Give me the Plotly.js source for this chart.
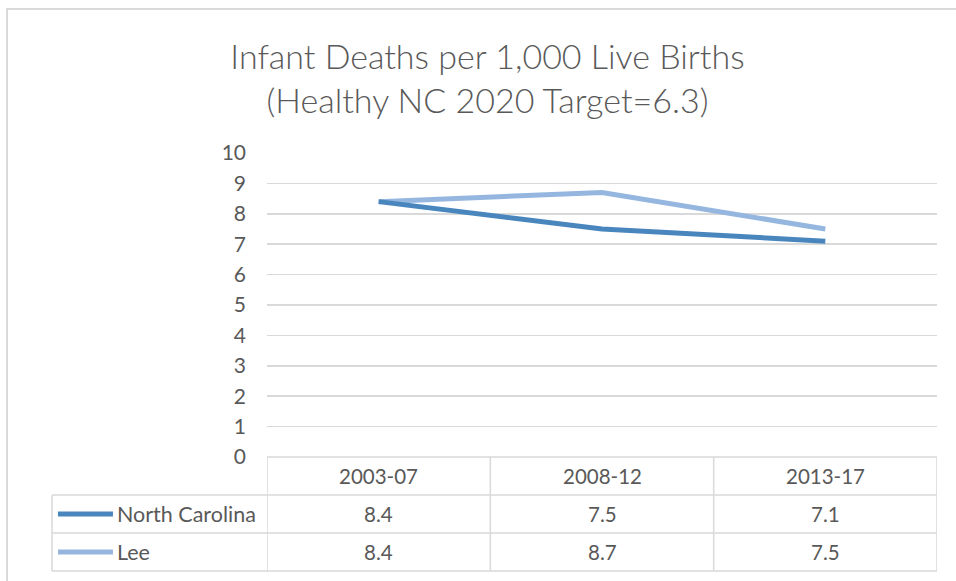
<!DOCTYPE html>
<html>
<head>
<meta charset="utf-8">
<script src="https://cdn.plot.ly/plotly-3.0.1.min.js"></script>
<style>html,body{margin:0;padding:0;background:#fff;}#chart{width:956px;height:581px;}</style>
</head>
<body>
<div id="chart"></div>
<script>
const categories = ['2003-07', '2008-12', '2013-17'];
const seriesNames = ['North Carolina', 'Lee'];
const northCarolina = [8.4, 7.5, 7.1];
const lee = [8.4, 8.7, 7.5];
const yTicks = [0, 1, 2, 3, 4, 5, 6, 7, 8, 9, 10];
const titleLines = ['Infant Deaths per 1,000 Live Births', '(Healthy NC 2020 Target=6.3)'];

const seriesValues = [northCarolina, lee];
const colors = ['#4A86BE', '#95B7DF'];
const textColor = '#595959';
const gridColor = '#D9D9D9';
const FONT = 'Lato, "Open Sans", sans-serif';

const traces = seriesValues.map((vals, i) => ({
  type: 'scatter', mode: 'lines', name: seriesNames[i],
  x: categories, y: vals,
  line: {color: colors[i], width: 5, shape: 'linear'},
  hoverinfo: 'skip', showlegend: false
}));
// draw North Carolina on top of Lee
traces.reverse();

// Data table geometry (paper coords, relative to plot area)
const rowH = 0.125;
const tableLeft = -0.3209;
const rowCenters = [-rowH / 2, -rowH * 1.5, -rowH * 2.5];
const shapes = [];
const lineStyle = {color: gridColor, width: 1.5};
shapes.push({type: 'line', xref: 'paper', yref: 'paper', x0: 0, x1: 1, y0: 0, y1: 0, line: lineStyle});
for (let r = 1; r <= 3; r++) {
  shapes.push({type: 'line', xref: 'paper', yref: 'paper', x0: tableLeft, x1: 1, y0: -rowH * r, y1: -rowH * r, line: lineStyle});
}
for (let c = 0; c <= categories.length; c++) {
  shapes.push({type: 'line', xref: 'x', yref: 'paper', x0: c - 0.5, x1: c - 0.5, y0: 0, y1: -rowH * 3, line: lineStyle});
}
shapes.push({type: 'line', xref: 'paper', yref: 'paper', x0: tableLeft, x1: tableLeft, y0: -rowH, y1: -rowH * 3, line: lineStyle});
seriesNames.forEach((n, i) => {
  shapes.push({type: 'line', xref: 'paper', yref: 'paper', x0: -0.312, x1: -0.2299,
    y0: rowCenters[i + 1], y1: rowCenters[i + 1], line: {color: colors[i], width: 5}});
});
shapes.push({type: 'path', xref: 'paper', yref: 'paper',
  path: 'M 1.06 1.4737 L -0.388 1.4737 L -0.388 -0.5',
  line: {color: gridColor, width: 2}});

const annotations = [];
const cellFont = {family: FONT, size: 20.5, color: textColor};
const legendFont = {family: FONT, size: 21.5, color: textColor};
categories.forEach((c, j) => {
  annotations.push({x: c, xref: 'x', y: rowCenters[0], yref: 'paper', text: c, showarrow: false, font: cellFont, xanchor: 'center', yanchor: 'middle'});
  seriesValues.forEach((vals, i) => {
    annotations.push({x: c, xref: 'x', y: rowCenters[i + 1], yref: 'paper', text: vals[j].toFixed(1), showarrow: false, font: cellFont, xanchor: 'center', yanchor: 'middle'});
  });
});
seriesNames.forEach((n, i) => {
  annotations.push({x: -0.2269, xref: 'paper', y: rowCenters[i + 1], yref: 'paper', text: n, showarrow: false, font: legendFont, xanchor: 'left', yanchor: 'middle'});
});

const layout = {
  width: 956, height: 581,
  margin: {l: 267, r: 19, t: 153, b: 124},
  paper_bgcolor: '#ffffff', plot_bgcolor: '#ffffff',
  font: {family: FONT, color: textColor},
  title: {
    text: titleLines.join('<br>'),
    font: {family: FONT, size: 34, color: textColor, weight: 300},
    x: 487.5 / 956, xref: 'container', xanchor: 'center',
    y: 1 - 69 / 581, yref: 'container', yanchor: 'top'
  },
  xaxis: {
    type: 'category', range: [-0.5, 2.5], showticklabels: false,
    showgrid: false, zeroline: false, showline: false, ticks: '', fixedrange: true
  },
  yaxis: {
    range: [0, 10], tickvals: yTicks, ticktext: yTicks.map(String),
    showgrid: true, gridcolor: gridColor, gridwidth: 1.5,
    zeroline: false, showline: false, ticks: '',
    tickfont: {family: FONT, size: 21, color: textColor},
    ticklabelstandoff: 20, fixedrange: true
  },
  shapes: shapes,
  annotations: annotations,
  showlegend: false
};

Plotly.newPlot('chart', traces, layout, {staticPlot: true, displayModeBar: false});
</script>
</body>
</html>
